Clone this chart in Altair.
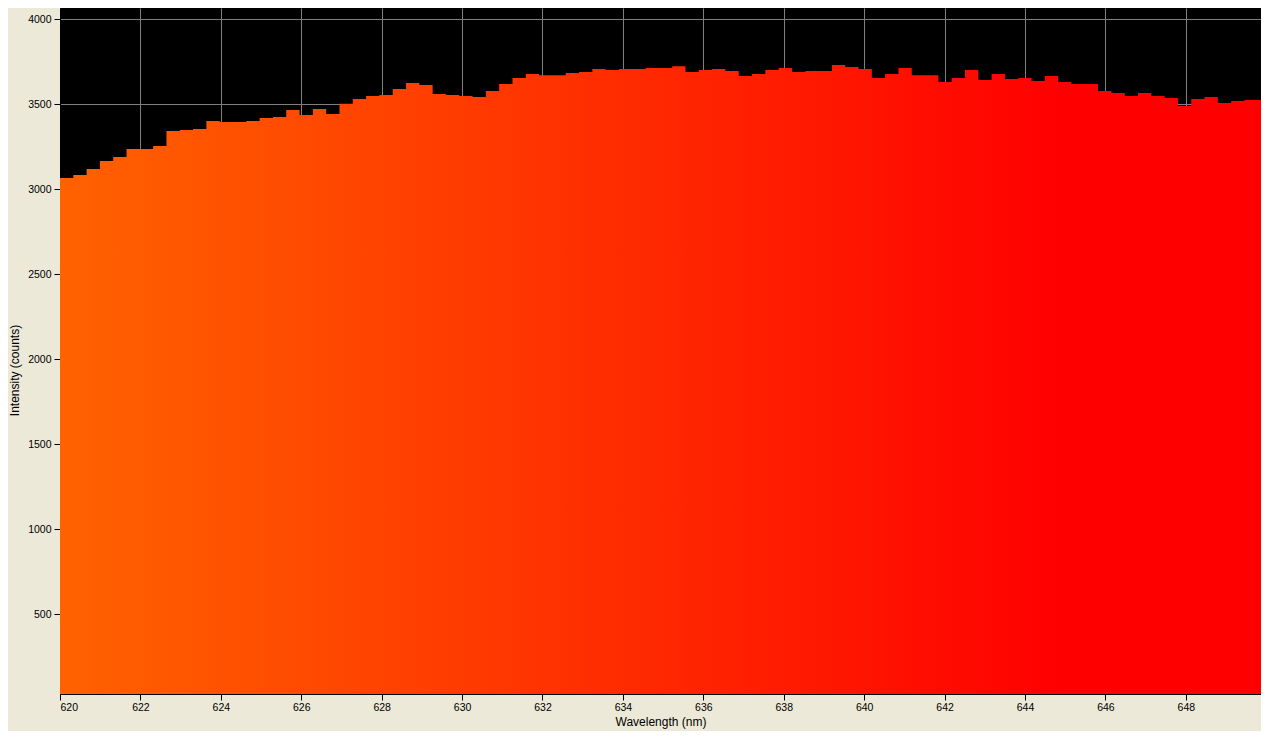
import altair as alt
import pandas as pd

# Left edges of spectrometer bins (nm)
wavelength = [
    620.000, 620.331, 620.662, 620.993, 621.324, 621.655, 621.986, 622.317, 622.648, 622.979,
    623.310, 623.641, 623.972, 624.303, 624.634, 624.965, 625.296, 625.627, 625.958, 626.289,
    626.620, 626.951, 627.282, 627.613, 627.944, 628.275, 628.606, 628.937, 629.268, 629.599,
    629.930, 630.261, 630.592, 630.923, 631.254, 631.585, 631.916, 632.247, 632.578, 632.909,
    633.240, 633.571, 633.902, 634.233, 634.564, 634.895, 635.226, 635.557, 635.888, 636.219,
    636.550, 636.881, 637.212, 637.543, 637.874, 638.205, 638.536, 638.867, 639.198, 639.529,
    639.860, 640.191, 640.522, 640.853, 641.184, 641.515, 641.846, 642.177, 642.508, 642.839,
    643.170, 643.501, 643.832, 644.163, 644.494, 644.825, 645.156, 645.487, 645.818, 646.149,
    646.480, 646.811, 647.142, 647.473, 647.804, 648.135, 648.466, 648.797, 649.128, 649.459,
    649.790,
]
last_bin_right = 650.121

intensity = [
    3067, 3084, 3120, 3167, 3190, 3237, 3237, 3255, 3343, 3349, 3355, 3402,
    3396, 3396, 3402, 3420, 3425, 3467, 3437, 3473, 3443, 3504, 3531, 3549,
    3555, 3590, 3626, 3614, 3561, 3555, 3549, 3543, 3578, 3620, 3655, 3678,
    3672, 3672, 3684, 3690, 3708, 3702, 3708, 3708, 3714, 3714, 3725, 3690,
    3702, 3708, 3696, 3667, 3678, 3702, 3714, 3690, 3696, 3696, 3731, 3720,
    3708, 3655, 3678, 3714, 3672, 3672, 3631, 3655, 3702, 3643,
    3678, 3649, 3655, 3637, 3667, 3631, 3620, 3620, 3578, 3567, 3549, 3567,
    3549, 3537, 3490, 3531, 3543, 3508, 3520, 3526, 3526,
]

x_ticks = [620, 622, 624, 626, 628, 630, 632, 634, 636, 638, 640, 642, 644, 646, 648]
y_ticks = [500, 1000, 1500, 2000, 2500, 3000, 3500, 4000]

df = pd.DataFrame({
    "wl": wavelength + [last_bin_right],
    "val": intensity + [intensity[-1]],
})

FONT = "Liberation Sans"

fill = alt.Gradient(
    gradient="linear",
    stops=[
        alt.GradientStop(offset=0, color="#FF6200"),
        alt.GradientStop(offset=0.83, color="#FF0000"),
        alt.GradientStop(offset=1, color="#FF0000"),
    ],
    x1=0, x2=1, y1=0, y2=0,
)

chart = alt.Chart(df).mark_area(
    interpolate="step-after", color=fill, clip=True, strokeWidth=0
).encode(
    x=alt.X("wl:Q",
            scale=alt.Scale(domain=[620, 649.87], nice=False, zero=False),
            axis=alt.Axis(values=x_ticks, title="Wavelength (nm)", format="d",
                          titleY=31, titleBaseline="alphabetic")),
    y=alt.Y("val:Q",
            scale=alt.Scale(domain=[31, 4067], nice=False, zero=False),
            axis=alt.Axis(values=y_ticks, title="Intensity (counts)", format="d",
                          titleX=-42, titleY=362, titleAngle=270,
                          titleAlign="center", titleBaseline="alphabetic")),
).properties(
    width=1201, height=686,
    autosize=alt.AutoSizeParams(type="none"),
    padding={"left": 52, "top": 0, "right": 0, "bottom": 37},
    background="#ECE9D8",
).configure_view(
    fill="#000000", stroke=None
).configure_axis(
    grid=True, gridColor="#808080", gridWidth=1, gridOpacity=1,
    domainColor="#000000", domainWidth=1,
    tickColor="#000000", tickSize=6, tickWidth=1,
    labelFont=FONT, labelFontSize=10.5, labelColor="#000000", labelPadding=2,
    titleFont=FONT, titleFontSize=12, titleColor="#000000", titleFontWeight="normal",
).configure_axisY(labelPadding=3)

chart.save("out.html", embed_options={"renderer": "svg", "actions": False})
